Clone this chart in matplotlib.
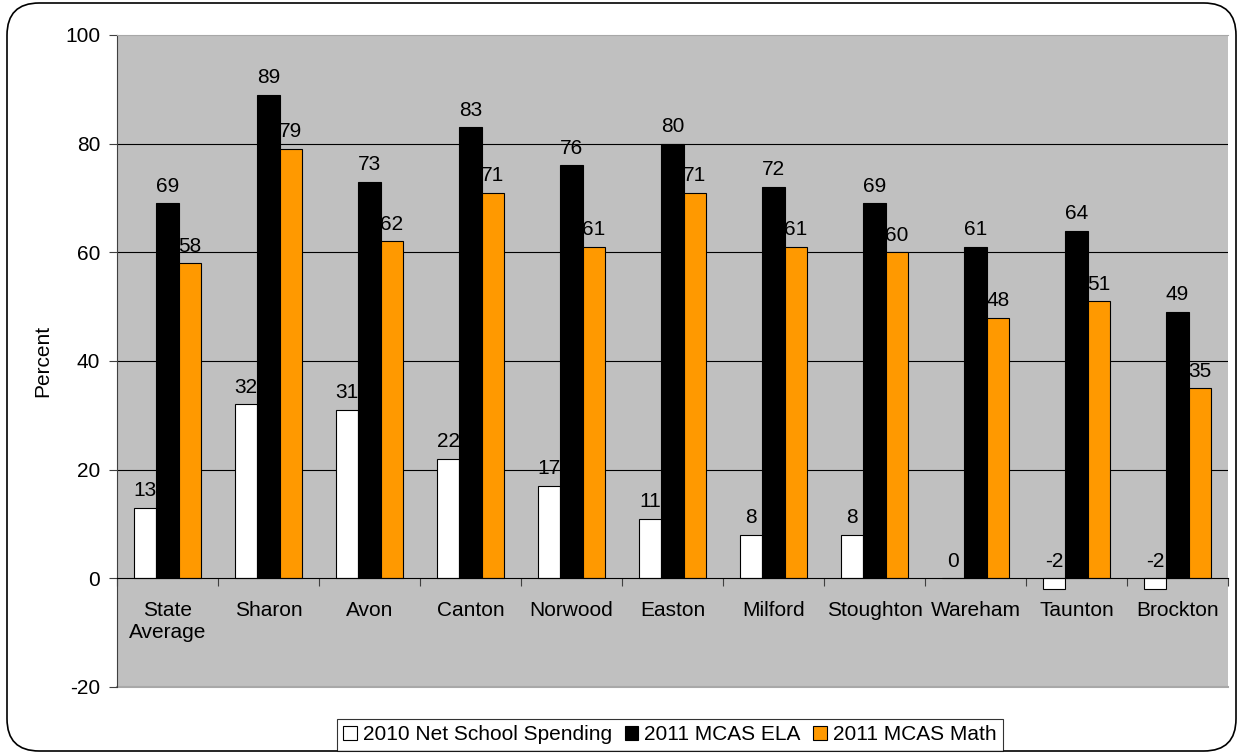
import numpy as np
import matplotlib.pyplot as plt
from matplotlib.patches import FancyBboxPatch

plt.rcParams['font.family'] = ['Liberation Sans', 'DejaVu Sans']
plt.rcParams['axes.unicode_minus'] = False

districts = ["State\nAverage", "Sharon", "Avon", "Canton", "Norwood", "Easton",
             "Milford", "Stoughton", "Wareham", "Taunton", "Brockton"]
net_spending_2010 = [13, 32, 31, 22, 17, 11, 8, 8, 0, -2, -2]
mcas_ela_2011 = [69, 89, 73, 83, 76, 80, 72, 69, 61, 64, 49]
mcas_math_2011 = [58, 79, 62, 71, 61, 71, 61, 60, 48, 51, 35]

series = [
    ("2010 Net School Spending", net_spending_2010, "white"),
    ("2011 MCAS ELA", mcas_ela_2011, "black"),
    ("2011 MCAS Math", mcas_math_2011, "#ff9900"),
]

FS = 15

fig = plt.figure(figsize=(12.38, 7.54), dpi=100)
ax = fig.add_axes([117 / 1238, 1 - 687 / 754, (1228 - 117) / 1238, (687 - 35) / 754])
ax.set_facecolor("#c0c0c0")

# rounded frame around the whole chart
frame = FancyBboxPatch((7 / 1238, 3 / 754), 1229 / 1238, 748 / 754,
                       boxstyle="round,pad=0,rounding_size=0.026",
                       transform=fig.transFigure, fill=False,
                       edgecolor="black", linewidth=1.2, zorder=0,
                       mutation_aspect=1238 / 754)
fig.patches.append(frame)

x = np.arange(len(districts))
w = 1 / 4.5
for i, (name, vals, color) in enumerate(series):
    pos = x + (i - 1) * w
    ax.bar(pos, vals, width=w, color=color, edgecolor="black",
           linewidth=0.8, label=name, zorder=3 + 2 * i)
    for xp, v in zip(pos, vals):
        ax.annotate(str(v), (xp, max(v, 0)), xytext=(0, 5.5),
                    textcoords="offset points", ha="center", va="bottom",
                    fontsize=FS, zorder=4 + 2 * i)

ax.set_xlim(-0.5, len(districts) - 0.5)
ax.set_ylim(-20, 100)
ax.set_yticks(range(-20, 101, 20))
ax.tick_params(axis="y", labelsize=FS, length=6, direction="out",
               color="#404040", pad=6)
ax.set_ylabel("Percent", fontsize=FS, labelpad=9)

for y in range(20, 100, 20):
    ax.axhline(y, color="black", linewidth=0.8, zorder=1)

# category axis sits at zero with ticks between groups
ax.spines["bottom"].set_position(("data", 0))
ax.spines["bottom"].set_color("black")
ax.spines["bottom"].set_zorder(9)
ax.spines["left"].set_color("#404040")
ax.spines["top"].set_color("#a8a8a8")
ax.spines["right"].set_visible(False)
ax.set_xticks(np.arange(-0.5, len(districts)), minor=False)
ax.set_xticklabels([])
ax.set_xticks(x, minor=True)
ax.set_xticklabels(districts, minor=True, fontsize=FS)
ax.tick_params(axis="x", which="major", length=6, direction="out", color="#404040")
ax.tick_params(axis="x", which="minor", length=0, pad=16)

# light edge at the bottom of the plot area
ax.axhline(-20, color="#a8a8a8", linewidth=1.5, zorder=1, clip_on=False)

handles, labels = ax.get_legend_handles_labels()
leg = fig.legend(handles, labels, loc="center", bbox_to_anchor=(670 / 1238, 1 - 735 / 754),
                 ncol=3, fontsize=FS, frameon=True, fancybox=False,
                 edgecolor="black", handlelength=0.65, handleheight=0.65,
                 handletextpad=0.3, columnspacing=0.6, borderpad=0.3)
leg.get_frame().set_linewidth(0.8)

fig.savefig("out.png", dpi=100)
